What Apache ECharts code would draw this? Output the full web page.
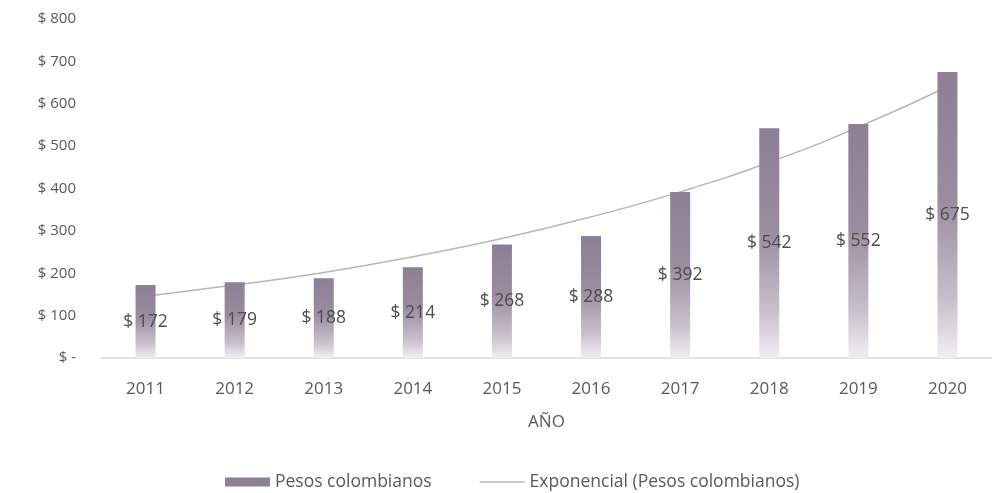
<!DOCTYPE html>
<html>
<head>
<meta charset="utf-8">
<script src="https://cdn.jsdelivr.net/npm/echarts@6/dist/echarts.min.js"></script>
<style>
  html, body { margin: 0; padding: 0; background: #fff; }
  #main { width: 992px; height: 493px; }
</style>
</head>
<body>
<div id="main"></div>
<script>
const years = ['2011', '2012', '2013', '2014', '2015', '2016', '2017', '2018', '2019', '2020'];
const pesos = [172, 179, 188, 214, 268, 288, 392, 542, 552, 675];
// trend line
const exponencial = [146, 172, 202, 239, 282, 333, 392, 462, 545, 640];
const yTicks = [0, 100, 200, 300, 400, 500, 600, 700, 800];

const chartDom = document.getElementById('main');
const myChart = echarts.init(chartDom);

const textColor = '#595959';
const fontFamily = '"Open Sans", "Noto Sans", sans-serif';

const barGradient = new echarts.graphic.LinearGradient(0, 0, 0, 1, [
  { offset: 0, color: '#8d7f94' },
  { offset: 0.45, color: '#9a8da0' },
  { offset: 0.8, color: '#c9c0cc' },
  { offset: 1, color: '#f1eef2' }
]);

const myChartOption = {
  animation: false,
  textStyle: { fontFamily: fontFamily },
  grid: { left: 101, right: -8, top: 19, bottom: 135 },
  legend: {
    top: 468,
    left: 220,
    itemGap: 48,
    itemWidth: 45,
    itemHeight: 9,
    textStyle: { color: textColor, fontSize: 17.5, fontFamily: fontFamily },
    data: [
      { name: 'Pesos colombianos', icon: 'rect', itemStyle: { color: '#8d7f94' } },
      { name: 'Exponencial (Pesos colombianos)', icon: 'path://M0,0 L45,0 L45,2 L0,2 Z', itemStyle: { color: '#c8c8c8' } }
    ]
  },
  xAxis: {
    type: 'category',
    data: years,
    name: 'AÑO',
    nameLocation: 'middle',
    nameGap: 56,
    nameTextStyle: { color: textColor, fontSize: 17, fontFamily: fontFamily },
    axisLine: { show: true, lineStyle: { color: '#d9d9d9', width: 1.5 } },
    axisTick: { show: false },
    axisLabel: { color: textColor, fontSize: 17, margin: 23 }
  },
  yAxis: {
    type: 'value',
    min: 0,
    max: 800,
    interval: 100,
    axisLine: { show: false },
    axisTick: { show: false },
    splitLine: { show: false },
    axisLabel: {
      color: textColor,
      fontSize: 15,
      margin: 25,
      formatter: function (v) {
        return yTicks.indexOf(v) === 0 ? '$ -' : '$ ' + v;
      }
    }
  },
  series: [
    {
      name: 'Pesos colombianos',
      type: 'bar',
      data: pesos,
      barWidth: 20,
      z: 3,
      itemStyle: { color: barGradient },
      label: {
        show: true,
        position: 'inside',
        color: '#4d4d4d',
        fontSize: 17.5,
        fontFamily: fontFamily,
        formatter: function (p) { return '$ ' + p.value; }
      }
    },
    {
      name: 'Exponencial (Pesos colombianos)',
      type: 'line',
      data: exponencial,
      smooth: true,
      symbol: 'none',
      z: 2,
      lineStyle: { color: '#b8b4ba', width: 1.5 }
    }
  ]
};

myChartOption && myChart.setOption(myChartOption);
</script>
</body>
</html>
